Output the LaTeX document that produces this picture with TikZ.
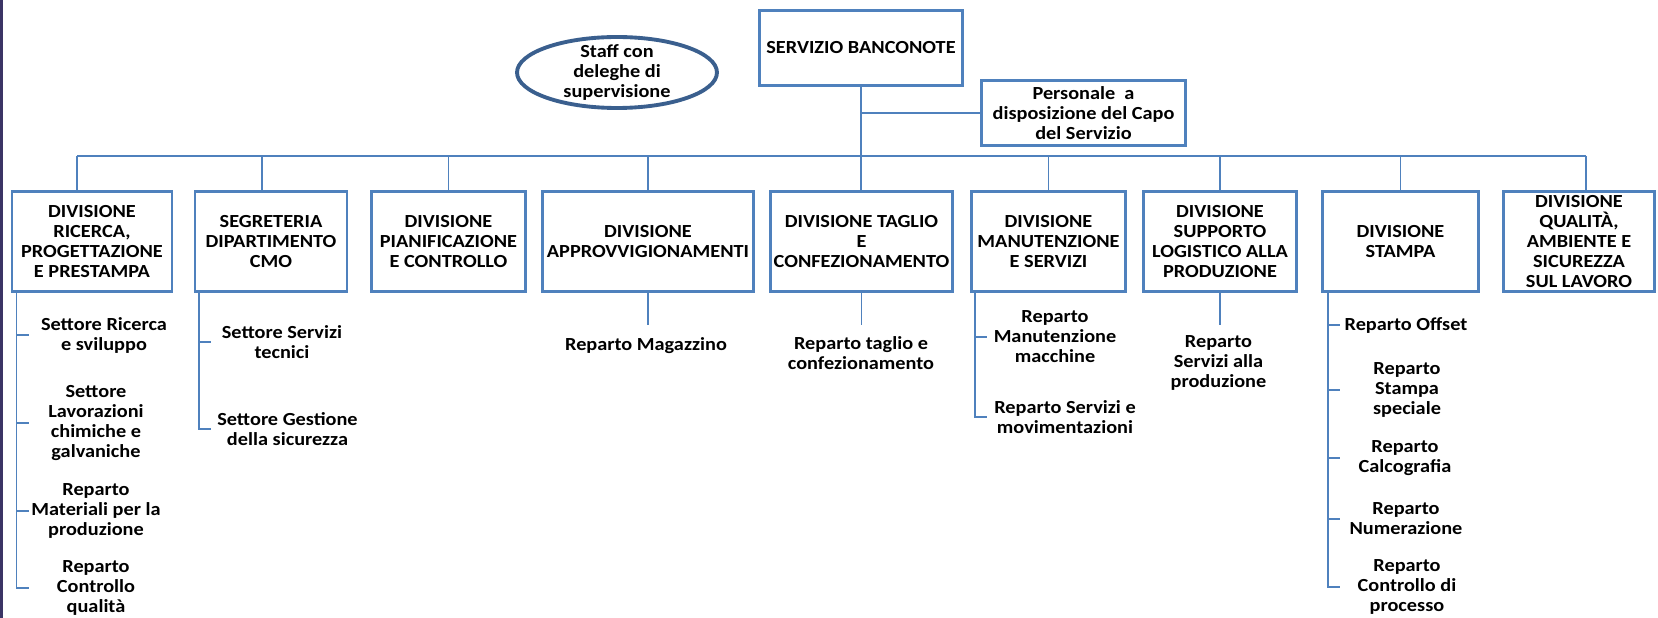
\documentclass[tikz,border=0pt]{standalone}
\usepackage{fontspec}
\setmainfont{Carlito}[FakeStretch=1.1]
\usetikzlibrary{shapes.geometric}

\definecolor{boxblue}{HTML}{4F81BD}
\definecolor{ovalblue}{HTML}{3A5F8E}
\definecolor{edgepurple}{HTML}{3B3465}

\begin{document}
\begin{tikzpicture}[x=0.02cm,y=-0.02cm,
  every node/.style={font=\fontsize{10.5}{11.4}\selectfont\bfseries,align=center,inner sep=0pt},
  unit/.style={draw=boxblue,line width=1.6pt,fill=white,minimum height=2cm},
  link/.style={boxblue,line width=1pt}]
  \useasboundingbox (0,0) rectangle (1658,618);
  % bordo sinistro
  \fill[edgepurple] (0,0) rectangle (3,618);
  % vertice e staff
  \node[unit,line width=2pt,minimum width=4.06cm,minimum height=1.5cm] (top) at (861,48) {SERVIZIO BANCONOTE};
  \node[ellipse,draw=ovalblue,line width=2.2pt,inner sep=-2.5pt,minimum width=4.0cm,minimum height=1.42cm] (staff) at (617,72.5) {Staff con\\deleghe di\\supervisione};
  \node[unit,minimum width=4.08cm,minimum height=1.3cm] (pers) at (1083.5,113) {Personale\ \ a\\disposizione del Capo\\del Servizio};
  % divisioni
  \node[unit,minimum width=3.2cm] (d1) at (92,241.5) {DIVISIONE\\RICERCA,\\PROGETTAZIONE\\E PRESTAMPA};
  \node[unit,minimum width=3.04cm] (d2) at (271,241.5) {SEGRETERIA\\DIPARTIMENTO\\CMO};
  \node[unit,minimum width=3.08cm] (d3) at (448.5,241.5) {DIVISIONE\\PIANIFICAZIONE\\E CONTROLLO};
  \node[unit,minimum width=4.22cm] (d4) at (648,241.5) {DIVISIONE\\APPROVVIGIONAMENTI};
  \node[unit,minimum width=3.64cm] (d5) at (861.5,241.5) {DIVISIONE TAGLIO\\E\\CONFEZIONAMENTO};
  \node[unit,minimum width=3.08cm] (d6) at (1048.5,241.5) {DIVISIONE\\MANUTENZIONE\\E SERVIZI};
  \node[unit,minimum width=3.06cm] (d7) at (1220,241.5) {DIVISIONE\\SUPPORTO\\LOGISTICO ALLA\\PRODUZIONE};
  \node[unit,minimum width=3.12cm] (d8) at (1400.5,241.5) {DIVISIONE\\STAMPA};
  \node[unit,minimum width=3.02cm] (d9) at (1579,241.5) {DIVISIONE\\QUALITÀ,\\AMBIENTE E\\SICUREZZA\\SUL LAVORO};
  % settori e reparti
  \node (i11) at (104,335) {Settore Ricerca\\e sviluppo};
  \node (i12) at (96,423) {Settore\\Lavorazioni\\chimiche e\\galvaniche};
  \node (i13) at (96,511) {Reparto\\Materiali per la\\produzione};
  \node (i14) at (96,588) {Reparto\\Controllo\\qualità};
  \node (i21) at (282,342) {Settore Servizi\\tecnici};
  \node (i22) at (287.5,429) {Settore Gestione\\della sicurezza};
  \node (i41) at (646,346) {Reparto Magazzino};
  \node (i51) at (861,353) {Reparto taglio e\\confezionamento};
  \node (i61) at (1055,337) {Reparto\\Manutenzione\\macchine};
  \node (i62) at (1065,417) {Reparto Servizi e\\movimentazioni};
  \node (i71) at (1218.5,363) {Reparto\\Servizi alla\\produzione};
  \node (i81) at (1406,325) {Reparto Offset};
  \node (i82) at (1407,390) {Reparto\\Stampa\\speciale};
  \node (i83) at (1405,458) {Reparto\\Calcografia};
  \node (i84) at (1406,519) {Reparto\\Numerazione};
  \node (i85) at (1407,587) {Reparto\\Controllo di\\processo};
  % collegamenti in alto
  \coordinate (busL) at (77,156);
  \coordinate (busR) at (1586,156);
  \coordinate (bus2) at (262,156);
  \draw[link] (top.south) -- (top.south |- d5.north);
  \draw[link] (pers) -- (pers -| top);
  \draw[link] (busL) -- (busR);
  \draw[link] (busL) -- (busL |- d1.north);
  \draw[link] (bus2) -- (bus2 |- d2.north);
  \draw[link] (busR) -- (busR |- d9.north);
  \foreach \n in {3,4,6,7,8} \draw[link] (d\n.north) -- (d\n.north |- busL);
  % collegamenti in basso
  \coordinate (stubend) at (0,325);
  \foreach \n in {4,5,7} \draw[link] (d\n.south) -- (d\n.south |- stubend);
  \coordinate (rail1) at (16.5,0);
  \coordinate (rail2) at (199,0);
  \coordinate (rail6) at (975,0);
  \coordinate (rail8) at (1328,0);
  \draw[link] (d1.south -| rail1) -- (rail1 |- i14) -- ++(12,0);
  \foreach \i in {11,12,13} \draw[link] (rail1 |- i\i) -- ++(12,0);
  \draw[link] (d2.south -| rail2) -- (rail2 |- i22) -- ++(12,0);
  \draw[link] (rail2 |- i21) -- ++(12,0);
  \draw[link] (d6.south -| rail6) -- (rail6 |- i62) -- ++(12,0);
  \draw[link] (rail6 |- i61) -- ++(12,0);
  \draw[link] (d8.south -| rail8) -- (rail8 |- i85) -- ++(12,0);
  \foreach \i in {81,82,83,84} \draw[link] (rail8 |- i\i) -- ++(12,0);
\end{tikzpicture}
\end{document}
